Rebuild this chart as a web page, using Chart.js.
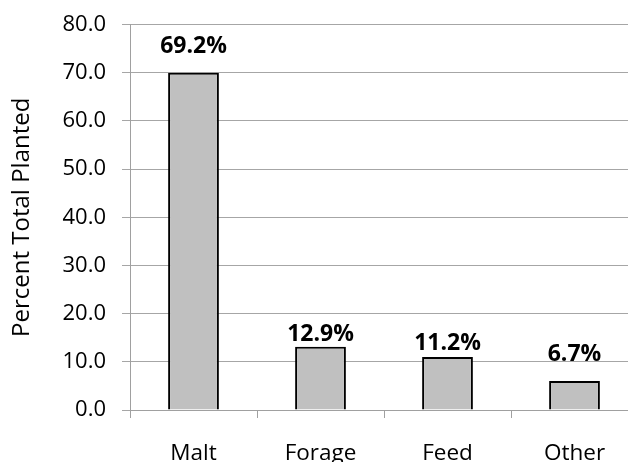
<!DOCTYPE html>
<html><head><meta charset="utf-8">
<script src="https://cdn.jsdelivr.net/npm/chart.js@4"></script>
<style>
html,body{margin:0;padding:0;overflow:hidden;background:#fff;width:628px;height:462px}
#wrap{width:640px;height:480px}
</style></head>
<body><div id="wrap"><canvas id="c" width="640" height="480"></canvas></div>
<script>
const categories = ['Malt', 'Forage', 'Feed', 'Other'];
const barValues = [70.0, 13.1, 11.0, 6.0];
const valueLabels = ['69.2%', '12.9%', '11.2%', '6.7%'];
const yMin = 0, yMax = 80, yStep = 10;

Chart.defaults.font.family = '"Open Sans", sans-serif';
Chart.defaults.color = '#000';

const valueLabelPlugin = {
  id: 'valueLabels',
  afterDatasetsDraw(chart, args, opts) {
    const ctx = chart.ctx;
    const meta = chart.getDatasetMeta(0);
    ctx.save();
    ctx.font = opts.font;
    ctx.fillStyle = opts.color;
    ctx.textAlign = 'center';
    ctx.textBaseline = 'alphabetic';
    meta.data.forEach((bar, i) => {
      ctx.fillText(valueLabels[i], bar.x, bar.y - opts.offsets[i]);
    });
    ctx.restore();
  }
};

new Chart(document.getElementById('c'), {
  type: 'bar',
  data: {
    labels: categories,
    datasets: [{
      data: barValues,
      backgroundColor: '#c0c0c0',
      borderColor: '#000',
      borderWidth: 2,
      barPercentage: 0.4,
      categoryPercentage: 1.0
    }]
  },
  options: {
    responsive: false,
    animation: false,
    events: [],
    layout: { padding: { top: 24.5, right: 2, left: 0, bottom: 0 } },
    plugins: {
      legend: { display: false },
      tooltip: { enabled: false },
      valueLabels: {
        font: 'bold 23px "Open Sans", sans-serif',
        color: '#000',
        offsets: [19.4, 5.6, 6.6, 20]
      }
    },
    scales: {
      x: {
        grid: { drawOnChartArea: false, drawTicks: true, tickLength: 8, color: '#a0a0a0', offset: true },
        border: { color: '#a0a0a0', width: 1 },
        ticks: { font: { size: 22.5 }, padding: 22, maxRotation: 0, autoSkip: false, color: '#000' },
        afterFit(scale) { scale.height = 70; scale.paddingLeft = 0; scale.paddingRight = 0; }
      },
      y: {
        min: yMin, max: yMax,
        grid: { color: '#a6a6a6', tickLength: 8, lineWidth: 1 },
        border: { color: '#a0a0a0', width: 1 },
        ticks: { stepSize: yStep, font: { size: 22 }, padding: 16, color: '#000',
                 callback: v => Number(v).toFixed(1) },
        title: { display: true, text: 'Percent Total Planted', font: { size: 24 }, padding: { top: 8, bottom: 0 }, color: '#000' },
        afterFit(scale) { scale.width = 130; scale.paddingTop = 0; scale.paddingBottom = 0; }
      }
    }
  },
  plugins: [valueLabelPlugin]
});
</script>
</body></html>
